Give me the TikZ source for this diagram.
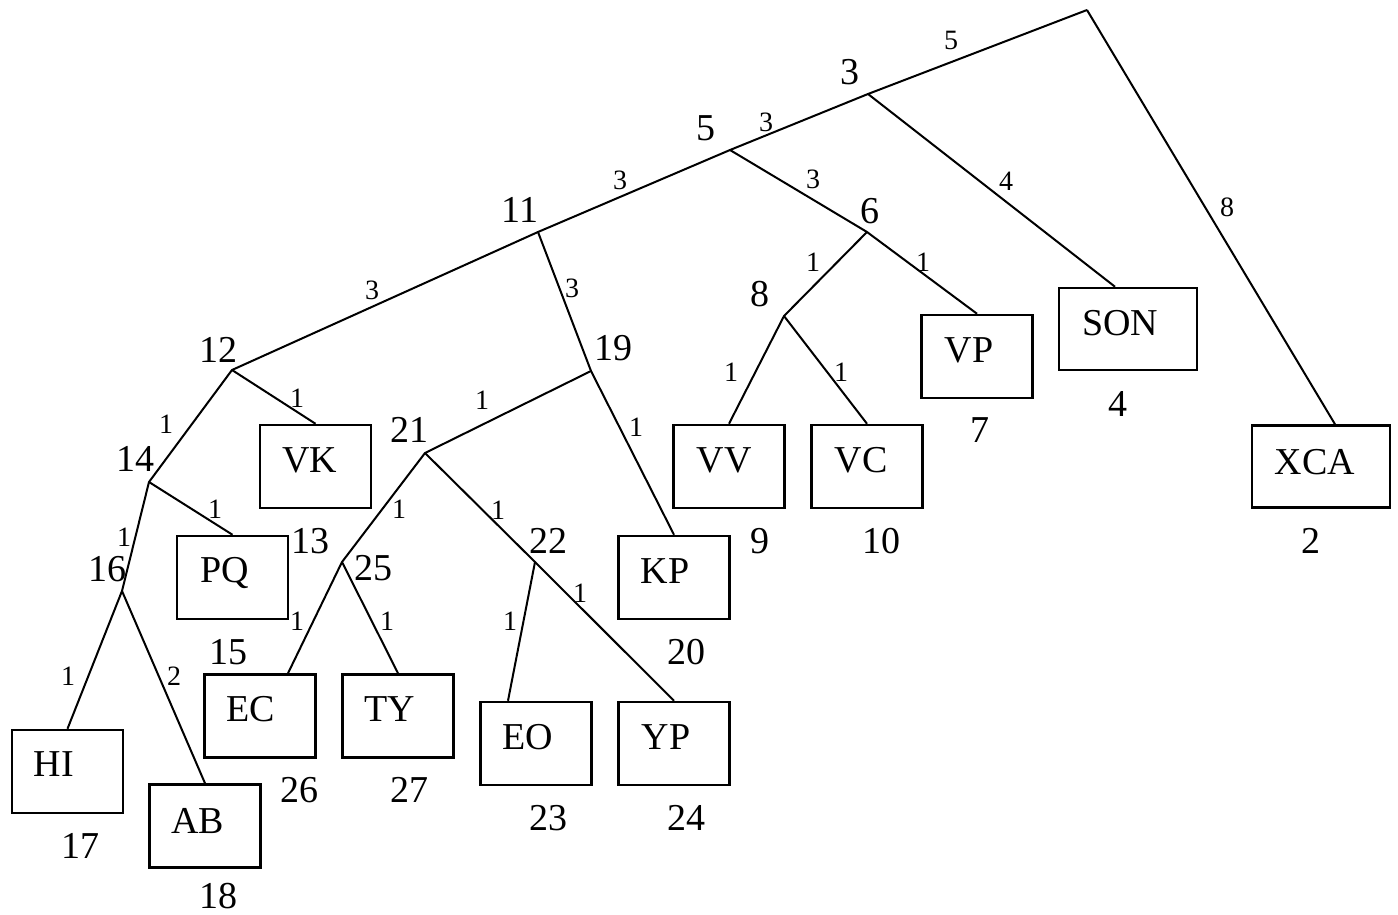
\documentclass[tikz,border=0pt]{standalone}
\usepackage{fontspec}
\setmainfont{Liberation Serif}
\begin{document}
\begin{tikzpicture}[x=1pt,y=-1pt,
  edge/.style={line width=2pt},
  leaf/.style={draw,line width=2.5pt,minimum width=111pt,minimum height=83pt,inner sep=0pt},
  wideleaf/.style={leaf,minimum width=138pt,minimum height=82pt},
  num/.style={inner sep=0pt,font=\fontsize{38}{40}\selectfont},
  wt/.style={inner sep=0pt,font=\fontsize{28}{30}\selectfont},
  lname/.style={inner sep=0pt,font=\fontsize{38}{40}\selectfont}]
\useasboundingbox (0,0) rectangle (1398,915);
% internal points
\coordinate (R) at (1087,10);
\coordinate (n3) at (868,94);
\coordinate (n5) at (730,150);
\coordinate (n11) at (538,232);
\coordinate (n6) at (867,232);
\coordinate (n8) at (784,316);
\coordinate (n12) at (232,370);
\coordinate (n19) at (591,371);
\coordinate (n14) at (149,482);
\coordinate (n21) at (425,453);
\coordinate (n16) at (122,591);
\coordinate (n25) at (342,562);
\coordinate (n22) at (535,562);
% leaves
\node[leaf] (VK) at (315.5,466.5) {};
\node[leaf] (PQ) at (232.5,577.5) {};
\node[leaf] (HI) at (67.5,771.5) {};
\node[leaf] (AB) at (205,826) {};
\node[leaf] (EC) at (260,716) {};
\node[leaf] (TY) at (398,716) {};
\node[leaf] (EO) at (536,743.5) {};
\node[leaf] (YP) at (674,743.5) {};
\node[leaf] (KP) at (674,577.5) {};
\node[leaf] (VV) at (729,466.5) {};
\node[leaf] (VC) at (867,466.5) {};
\node[leaf] (VP) at (977,356.5) {};
\node[wideleaf] (SON) at (1128,329) {};
\node[wideleaf] (XCA) at (1321,466.5) {};
% leaf texts
\node[lname] (tVK) at (310,460) {VK};
\node[lname] (tPQ) at (224.5,573) {PQ};
\node[lname] (tHI) at (54,764) {HI};
\node[lname] (tAB) at (197.5,821) {AB};
\node[lname] (tEC) at (251,709) {EC};
\node[lname] (tTY) at (390,709) {TY};
\node[lname] (tEO) at (528,737) {EO};
\node[lname] (tYP) at (666,737) {YP};
\node[lname] (tKP) at (665,571) {KP};
\node[lname] (tVV) at (724,460) {VV};
\node[lname] (tVC) at (861,460) {VC};
\node[lname] (tVP) at (969,350.5) {VP};
\node[lname] (tSON) at (1120,323) {SON};
\node[lname] (tXCA) at (1315,462) {XCA};
% edges
\draw[edge] (R) -- (n3) -- (n5) -- (n11) -- (n12) -- (n14) -- (n16);
\draw[edge] (R) -- ([xshift=14pt]XCA.north);
\draw[edge] (n3) -- ([xshift=-13pt]SON.north);
\draw[edge] (n5) -- (n6) -- (VP.north);
\draw[edge] (n6) -- (n8) -- (VV.north);
\draw[edge] (n8) -- (VC.north);
\draw[edge] (n11) -- (n19) -- (KP.north);
\draw[edge] (n19) -- (n21) -- (n25) -- ([xshift=28pt]EC.north);
\draw[edge] (n25) -- (TY.north);
\draw[edge] (n21) -- (n22) -- ([xshift=-28pt]EO.north);
\draw[edge] (n22) -- (YP.north);
\draw[edge] (n12) -- (VK.north);
\draw[edge] (n14) -- (PQ.north);
\draw[edge] (n16) -- (HI.north);
\draw[edge] (n16) -- (AB.north);
% internal node numbers
\node[num] (l3) at (850,72) {3};
\node[num] (l5) at (706,128) {5};
\node[num] (l11) at (520,210) {11};
\node[num] (l6) at (870,211) {6};
\node[num] (l8) at (760,294) {8};
\node[num] (l12) at (218,350) {12};
\node[num] (l19) at (613,348) {19};
\node[num] (l14) at (135,459) {14};
\node[num] (l21) at (409,430) {21};
\node[num] (l16) at (107,569) {16};
\node[num] (l25) at (373,568) {25};
\node[num] (l22) at (548,541) {22};
% leaf numbers
\node[num] (lVK) at (310,541) {13};
\node[num] (lPQ) at (228,652) {15};
\node[num] (lHI) at (80,846) {17};
\node[num] (lAB) at (218,896) {18};
\node[num] (lEC) at (299,790) {26};
\node[num] (lTY) at (409,790) {27};
\node[num] (lEO) at (548,818) {23};
\node[num] (lYP) at (686,818) {24};
\node[num] (lKP) at (686,652) {20};
\node[num] (lVV) at (760,541) {9};
\node[num] (lVC) at (881,541) {10};
\node[num] (lVP) at (980,430) {7};
\node[num] (lSON) at (1118,404) {4};
\node[num] (lXCA) at (1311,541) {2};
% edge weights
\node[wt] (w1) at (951,40) {5};
\node[wt] (w2) at (766,122) {3};
\node[wt] (w3) at (620,180) {3};
\node[wt] (w4) at (813,179) {3};
\node[wt] (w5) at (1006,181) {4};
\node[wt] (w6) at (372,290) {3};
\node[wt] (w7) at (572,288) {3};
\node[wt] (w8) at (1227,207) {8};
\node[wt] (w9) at (813,262) {1};
\node[wt] (w10) at (923,262) {1};
\node[wt] (w11) at (731,372) {1};
\node[wt] (w12) at (841,372) {1};
\node[wt] (w13) at (166,424) {1};
\node[wt] (w14) at (297,398) {1};
\node[wt] (w15) at (215,509) {1};
\node[wt] (w16) at (124,537) {1};
\node[wt] (w17) at (68,676) {1};
\node[wt] (w18) at (174,676) {2};
\node[wt] (w19) at (482,400) {1};
\node[wt] (w20) at (636,427) {1};
\node[wt] (w21) at (399,509) {1};
\node[wt] (w22) at (498,510) {1};
\node[wt] (w23) at (297,621) {1};
\node[wt] (w24) at (387,621) {1};
\node[wt] (w25) at (510,621) {1};
\node[wt] (w26) at (580,593) {1};
\end{tikzpicture}
\end{document}
